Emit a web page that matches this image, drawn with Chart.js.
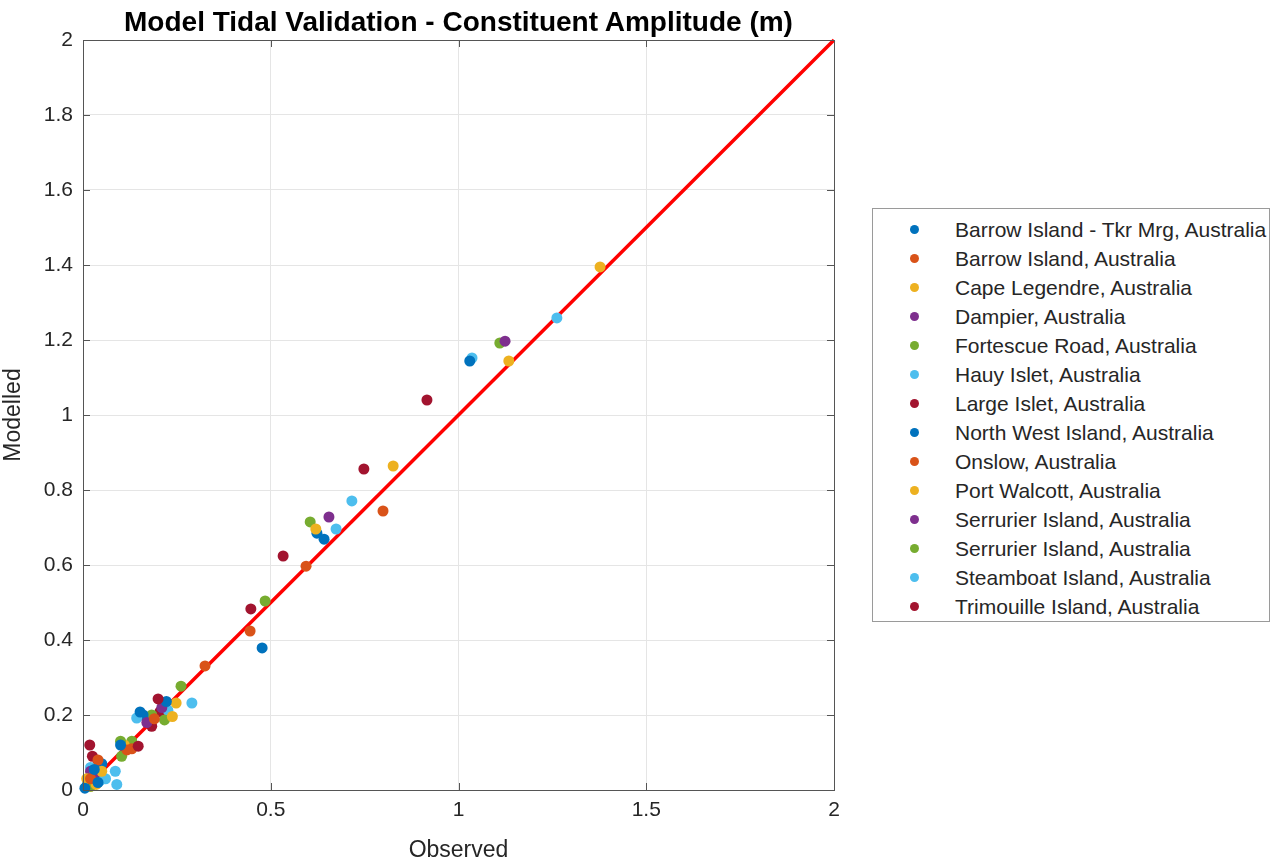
<!DOCTYPE html>
<html>
<head>
<meta charset="utf-8">
<script src="https://cdn.jsdelivr.net/npm/chart.js@4.4.0/dist/chart.umd.min.js"></script>
<style>
  html, body { margin: 0; padding: 0; background: #ffffff; }
  #wrap { position: relative; width: 1280px; height: 864px; }
  #c { position: absolute; left: 0; top: 0; }
  #title {
    position: absolute; left: 83px; width: 751px; top: 5px; text-align: center;
    font-family: "Liberation Sans", Arial, sans-serif; font-weight: bold; font-size: 28px;
    line-height: 34px; color: #000; white-space: nowrap;
  }
  #legend {
    position: absolute; left: 872px; top: 208px; width: 398px; height: 414px;
    border: 1px solid #9a9a9a; background: #fff; box-sizing: border-box;
    font-family: "Liberation Sans", Arial, sans-serif; font-size: 21px; color: #262626;
    padding-top: 6px;
  }
  .li { height: 29px; line-height: 29px; position: relative; white-space: nowrap; }
  .dot { position: absolute; left: 37px; top: 10px; width: 9px; height: 9px; border-radius: 50%; }
  .lt { position: absolute; left: 82px; top: 0; }
</style>
</head>
<body>
<div id="wrap">
  <canvas id="c" width="1280" height="864"></canvas>
  <div id="title">Model Tidal Validation - Constituent Amplitude (m)</div>
  <div id="legend"></div>
</div>
<script>
// ---- data ----
const seriesNames = [
  "Barrow Island - Tkr Mrg, Australia",
  "Barrow Island, Australia",
  "Cape Legendre, Australia",
  "Dampier, Australia",
  "Fortescue Road, Australia",
  "Hauy Islet, Australia",
  "Large Islet, Australia",
  "North West Island, Australia",
  "Onslow, Australia",
  "Port Walcott, Australia",
  "Serrurier Island, Australia",
  "Serrurier Island, Australia",
  "Steamboat Island, Australia",
  "Trimouille Island, Australia"
];
const seriesColors = ["#0072BD","#D95319","#EDB120","#7E2F8E","#77AC30","#4DBEEE","#A2142F",
                      "#0072BD","#D95319","#EDB120","#7E2F8E","#77AC30","#4DBEEE","#A2142F"];

const barrowTkrObs = [0.477, 0.152, 0.100, 0.030, 0.005, 0.040];
const barrowTkrMod = [0.379, 0.208, 0.120, 0.055, 0.005, 0.020];
const barrowObs = [0.445, 0.117, 0.040, 0.020, 0.190];
const barrowMod = [0.424, 0.107, 0.080, 0.030, 0.190];
const capeLegObs = [1.134, 0.620, 0.238, 0.050, 0.010, 0.035];
const capeLegMod = [1.144, 0.696, 0.196, 0.050, 0.030, 0.015];
const dampierObs = [1.124, 0.170, 0.030];
const dampierMod = [1.197, 0.180, 0.040];
const fortescueObs = [1.110, 0.485, 0.217, 0.100, 0.020];
const fortescueMod = [1.192, 0.504, 0.187, 0.130, 0.010];
const hauyObs = [1.262, 0.716, 0.290, 0.143, 0.090, 0.030, 0.045];
const hauyMod = [1.259, 0.771, 0.232, 0.192, 0.015, 0.040, 0.025];
const largeObs = [0.916, 0.533, 0.200, 0.147, 0.018];
const largeMod = [1.040, 0.624, 0.243, 0.117, 0.120];
const nwIslandObs = [1.030, 0.642, 0.623, 0.222, 0.160, 0.050, 0.010];
const nwIslandMod = [1.144, 0.669, 0.685, 0.236, 0.200, 0.070, 0.010];
const onslowObs = [0.799, 0.594, 0.325, 0.130, 0.030];
const onslowMod = [0.744, 0.597, 0.331, 0.110, 0.020];
const portWalObs = [1.377, 0.826, 0.248, 0.040, 0.110, 0.020];
const portWalMod = [1.395, 0.864, 0.232, 0.060, 0.120, 0.010];
const serrAObs = [0.655, 0.210, 0.020];
const serrAMod = [0.728, 0.220, 0.050];
const serrBObs = [0.605, 0.261, 0.183, 0.103, 0.130];
const serrBMod = [0.715, 0.277, 0.200, 0.090, 0.130];
const steamObs = [1.036, 0.674, 0.226, 0.086, 0.060, 0.020, 0.012];
const steamMod = [1.152, 0.696, 0.213, 0.050, 0.030, 0.060, 0.022];
const trimObs = [0.748, 0.447, 0.205, 0.183, 0.025, 0.040];
const trimMod = [0.856, 0.483, 0.209, 0.170, 0.090, 0.070];

const seriesObs = [barrowTkrObs, barrowObs, capeLegObs, dampierObs, fortescueObs, hauyObs, largeObs,
                   nwIslandObs, onslowObs, portWalObs, serrAObs, serrBObs, steamObs, trimObs];
const seriesMod = [barrowTkrMod, barrowMod, capeLegMod, dampierMod, fortescueMod, hauyMod, largeMod,
                   nwIslandMod, onslowMod, portWalMod, serrAMod, serrBMod, steamMod, trimMod];

const oneToOneX = [0, 2];
const oneToOneY = [0, 2];
const xTicks = [0, 0.5, 1, 1.5, 2];
const yTicks = [0, 0.2, 0.4, 0.6, 0.8, 1, 1.2, 1.4, 1.6, 1.8, 2];

// ---- build datasets ----
const datasets = seriesNames.map((name, i) => ({
  type: 'scatter',
  label: name,
  data: seriesObs[i].map((x, j) => ({x: x, y: seriesMod[i][j]})),
  backgroundColor: seriesColors[i],
  borderColor: seriesColors[i],
  pointRadius: 5.5,
  pointBorderWidth: 0,
  clip: 8
}));
datasets.push({
  type: 'line',
  label: '1:1',
  data: oneToOneX.map((x, j) => ({x: x, y: oneToOneY[j]})),
  borderColor: '#ff0000',
  borderWidth: 3.5,
  pointRadius: 0,
  fill: false,
  clip: 4
});

// legend (HTML, real text)
const leg = document.getElementById('legend');
seriesNames.forEach((n, i) => {
  const d = document.createElement('div'); d.className = 'li';
  const dot = document.createElement('span'); dot.className = 'dot'; dot.style.background = seriesColors[i];
  const t = document.createElement('span'); t.className = 'lt'; t.textContent = n;
  d.appendChild(dot); d.appendChild(t); leg.appendChild(d);
});

const FONT = '"Liberation Sans", Arial, sans-serif';
const fmt = v => Number(v.toFixed(2)).toString();

const boxPlugin = {
  id: 'boxPlugin',
  afterDraw(chart) {
    const a = chart.chartArea, ctx = chart.ctx;
    ctx.save();
    ctx.strokeStyle = '#555555';
    ctx.lineWidth = 1;
    ctx.strokeRect(Math.round(a.left) + 0.5, Math.round(a.top) + 0.5,
                   Math.round(a.right - a.left), Math.round(a.bottom - a.top));
    const xs = chart.scales.x, ys = chart.scales.y;
    ctx.beginPath();
    xTicks.forEach(v => {
      const px = Math.round(xs.getPixelForValue(v)) + 0.5;
      ctx.moveTo(px, a.bottom); ctx.lineTo(px, a.bottom - 7);
      ctx.moveTo(px, a.top); ctx.lineTo(px, a.top + 7);
    });
    yTicks.forEach(v => {
      const py = Math.round(ys.getPixelForValue(v)) + 0.5;
      ctx.moveTo(a.left, py); ctx.lineTo(a.left + 7, py);
      ctx.moveTo(a.right, py); ctx.lineTo(a.right - 7, py);
    });
    ctx.stroke();
    ctx.restore();
  }
};

new Chart(document.getElementById('c'), {
  data: { datasets },
  plugins: [boxPlugin],
  options: {
    responsive: false,
    animation: false,
    layout: { padding: { left: 0, right: 446, top: 40, bottom: 0 } },
    plugins: {
      legend: { display: false },
      tooltip: { enabled: false },
      title: { display: false }
    },
    scales: {
      x: {
        type: 'linear', min: 0, max: 2,
        afterBuildTicks: s => { s.ticks = xTicks.map(v => ({value: v})); },
        afterFit: s => { s.height = 74; },
        ticks: { callback: fmt, color: '#262626', font: { family: FONT, size: 21 }, padding: 8, maxRotation: 0 },
        grid: { color: '#e5e5e5', drawTicks: false, lineWidth: 1 },
        border: { display: false },
        title: { display: true, text: 'Observed', color: '#262626', font: { family: FONT, size: 23 }, padding: { top: 0, bottom: 0 } }
      },
      y: {
        type: 'linear', min: 0, max: 2,
        afterBuildTicks: s => { s.ticks = yTicks.map(v => ({value: v})); },
        afterFit: s => { s.width = 83; },
        ticks: { callback: fmt, color: '#262626', font: { family: FONT, size: 21 }, padding: 10 },
        grid: { color: '#e5e5e5', drawTicks: false, lineWidth: 1 },
        border: { display: false },
        title: { display: true, text: 'Modelled', color: '#262626', font: { family: FONT, size: 23 }, padding: { top: 0, bottom: 4 } }
      }
    }
  }
});
</script>
</body>
</html>
